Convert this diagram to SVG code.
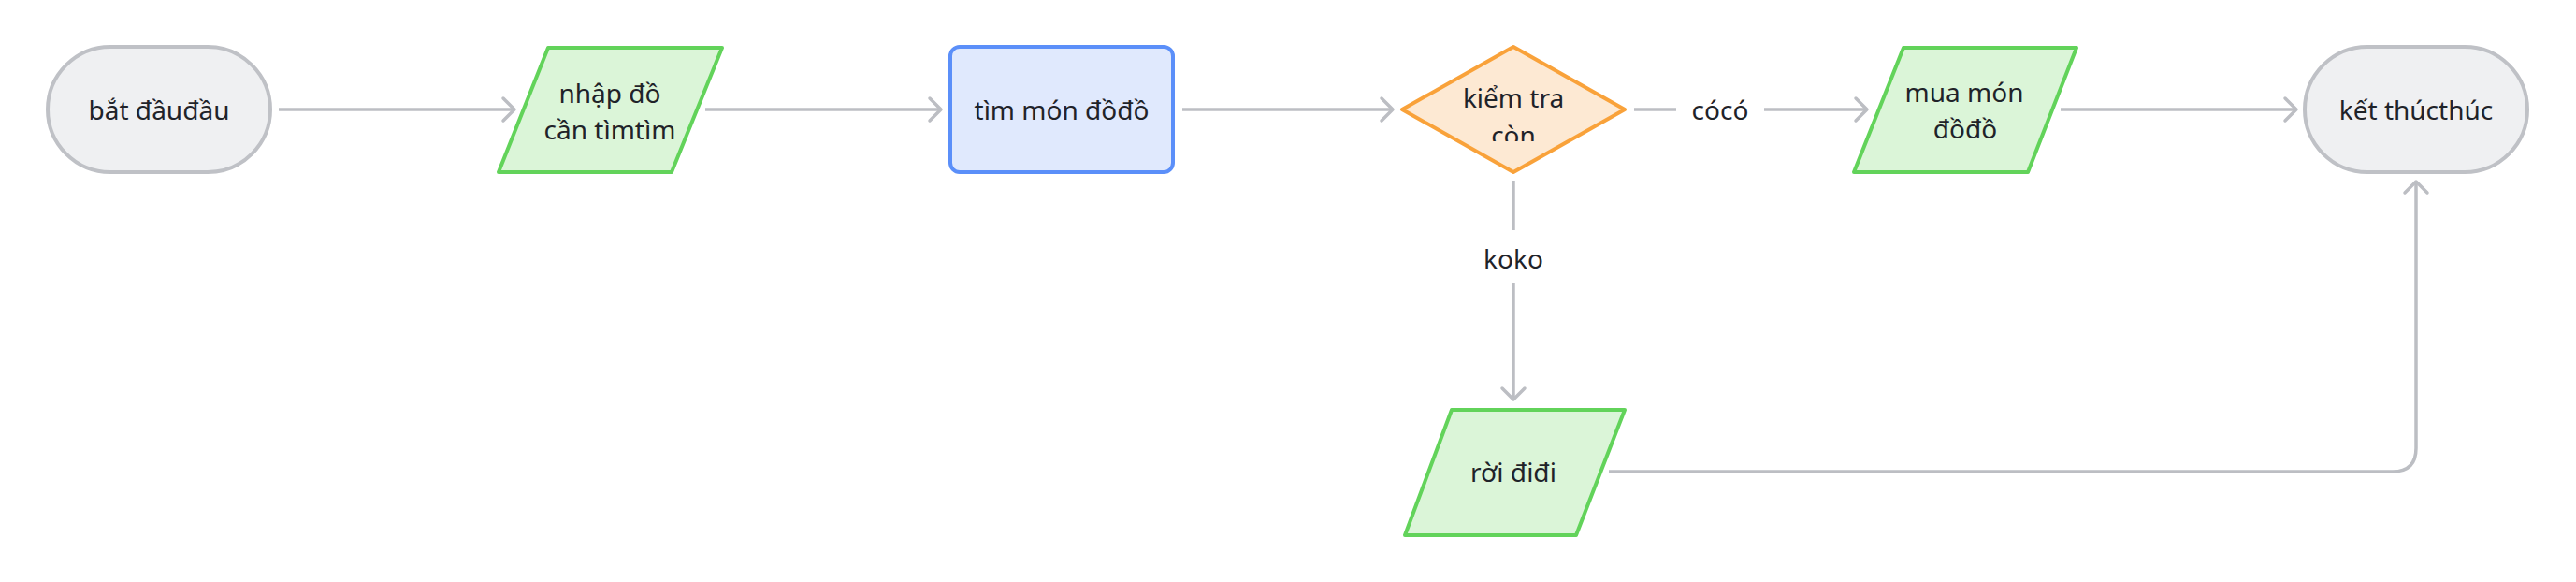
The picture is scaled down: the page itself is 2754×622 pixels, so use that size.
<svg xmlns="http://www.w3.org/2000/svg" width="2754" height="622" viewBox="0 0 2754 622">
<style>
  .lbl { font-family: "Noto Sans", "Open Sans", "DejaVu Sans", sans-serif; font-size: 28px; fill: #1f2329; text-anchor: middle; }
  .edge { fill: none; stroke: #bcbec3; stroke-width: 3.5; }
  .term { fill: #eff0f2; stroke: #bfc1c6; stroke-width: 4; }
  .io { fill: #dbf5d8; stroke: #62d35a; stroke-width: 4; stroke-linejoin: round; }
  .proc { fill: #e0e9fd; stroke: #5b8ff9; stroke-width: 4; }
  .dec { fill: #fde9d3; stroke: #f9a23a; stroke-width: 4; stroke-linejoin: round; }
  .lblbg { fill: #ffffff; }
</style>
<defs>
  <marker id="arr" markerUnits="userSpaceOnUse" markerWidth="20" markerHeight="30" viewBox="0 0 20 30" refX="17" refY="15" orient="auto">
    <path d="M5,3 L17,15 L5,27" fill="none" stroke="#bcbec3" stroke-width="3.5" stroke-linecap="round" stroke-linejoin="round"/>
  </marker>
  <clipPath id="decclip">
    <rect x="1540" y="70" width="160" height="81"/>
  </clipPath>
</defs>
<rect width="2754" height="622" fill="#ffffff"/>

<g id="connectors">
  <path class="edge" d="M298,117 H550" marker-end="url(#arr)"/>
  <path class="edge" d="M754,117 H1006" marker-end="url(#arr)"/>
  <path class="edge" d="M1264,117 H1489" marker-end="url(#arr)"/>
  <path class="edge" d="M1747,117 H1996" marker-end="url(#arr)"/>
  <path class="edge" d="M2203,117 H2455" marker-end="url(#arr)"/>
  <path class="edge" d="M1618,193 V427" marker-end="url(#arr)"/>
  <path class="edge" d="M1720,504 H2558 Q2583,504 2583,479 V194" marker-end="url(#arr)"/>
  <g id="label-co">
    <rect class="lblbg" x="1792" y="96" width="94" height="42"/>
    <text class="lbl" x="1839" y="128">cócó</text>
  </g>
  <g id="label-ko">
    <rect class="lblbg" x="1580" y="246" width="76" height="56"/>
    <text class="lbl" x="1618" y="287">koko</text>
  </g>
</g>

<g id="node-start">
  <rect class="term" x="51" y="50" width="238" height="134" rx="67" ry="67"/>
  <text class="lbl" x="170" y="128">bắt đầuđầu</text>
</g>

<g id="node-input">
  <polygon class="io" points="586,51 772,51 718,184 533,184"/>
  <text class="lbl" x="652" y="110">nhập đồ</text>
  <text class="lbl" x="652" y="149">cần tìmtìm</text>
</g>

<g id="node-search">
  <rect class="proc" x="1016" y="50" width="238" height="134" rx="10" ry="10"/>
  <text class="lbl" x="1135" y="128">tìm món đồđồ</text>
</g>

<g id="node-check">
  <polygon class="dec" points="1618,50 1737,117 1618,184 1499,117"/>
  <g clip-path="url(#decclip)">
    <text class="lbl" x="1618" y="115">kiểm tra</text>
    <text class="lbl" x="1618" y="155">còn</text>
  </g>
</g>

<g id="node-buy">
  <polygon class="io" points="2035,51 2220,51 2168,184 1982,184"/>
  <text class="lbl" x="2100" y="109">mua món</text>
  <text class="lbl" x="2101" y="148">đồđồ</text>
</g>

<g id="node-end">
  <rect class="term" x="2464" y="50" width="238" height="134" rx="67" ry="67"/>
  <text class="lbl" x="2583" y="128">kết thúcthúc</text>
</g>

<g id="node-leave">
  <polygon class="io" points="1552,438 1737,438 1685,572 1502,572"/>
  <text class="lbl" x="1618" y="515">rời điđi</text>
</g>
</svg>
